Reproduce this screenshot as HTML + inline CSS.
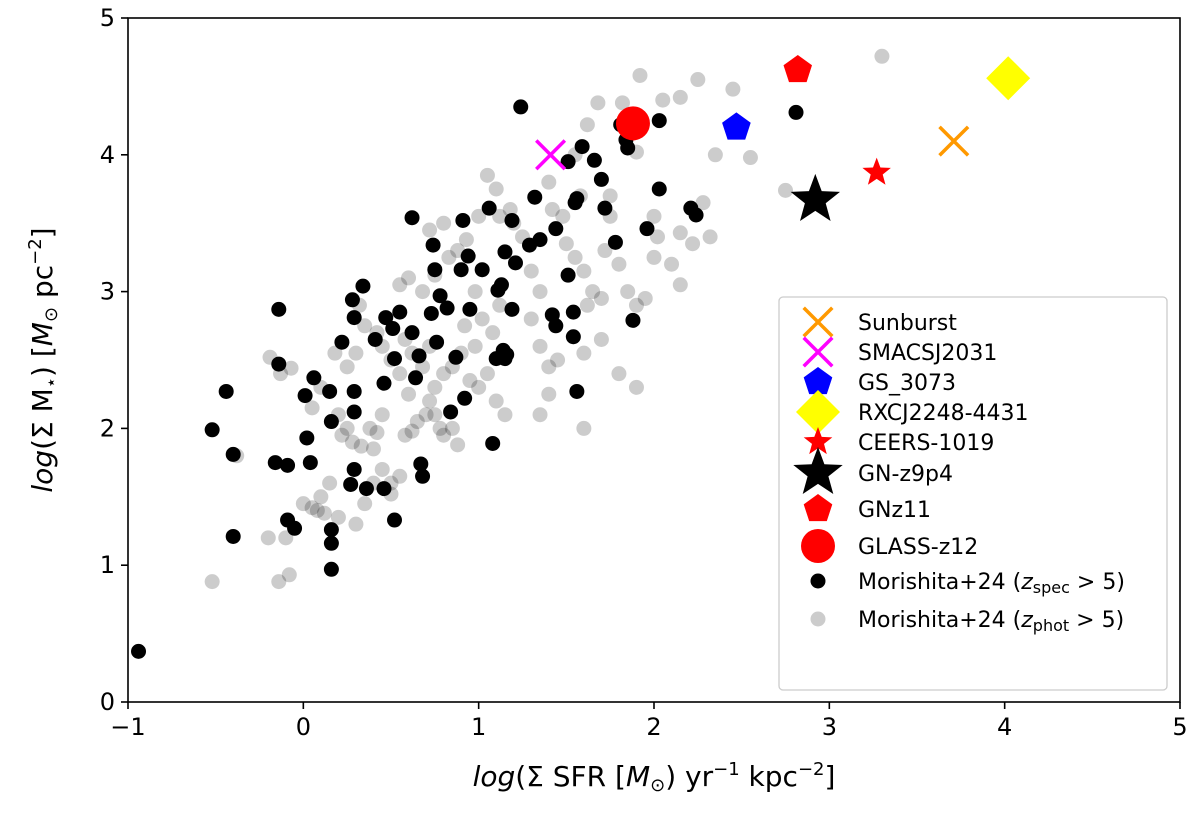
<!DOCTYPE html>
<html><head><meta charset="utf-8"><style>
body{margin:0;background:#fff}
svg{display:block;font-family:"DejaVu Sans","Liberation Sans",sans-serif}
</style></head><body>
<svg id="chart" width="1200" height="815" viewBox="0 0 1200 815"></svg>
<script>
const xTicks=[-1,0,1,2,3,4,5];
const yTicks=[0,1,2,3,4,5];
const blackX=[-0.94,-0.52,-0.44,-0.4,-0.4,-0.14,-0.14,-0.16,-0.09,-0.09,-0.05,0.06,0.01,0.02,0.04,0.16,0.16,0.16,0.15,0.16,0.22,0.28,0.29,0.29,0.29,0.29,0.27,0.36,0.34,0.41,0.46,0.47,0.52,0.51,0.52,0.46,0.55,0.62,0.62,0.64,0.66,0.67,0.68,0.73,0.74,0.75,0.76,0.78,0.82,0.84,0.87,0.91,0.9,0.94,0.95,0.92,1.02,1.06,1.08,1.13,1.14,1.15,1.19,1.1,1.11,1.15,1.19,1.21,1.29,1.32,1.35,1.44,1.42,1.44,1.54,1.54,1.56,1.51,1.51,1.55,1.56,1.24,1.59,1.66,1.72,1.81,1.84,1.85,1.88,1.78,1.96,2.03,2.03,2.21,2.24,2.81,1.16,1.7];
const blackY=[0.37,1.99,2.27,1.81,1.21,2.87,2.47,1.75,1.73,1.33,1.27,2.37,2.24,1.93,1.75,1.26,1.16,0.97,2.27,2.05,2.63,2.94,2.81,2.27,2.12,1.7,1.59,1.56,3.04,2.65,1.56,2.81,1.33,2.73,2.51,2.33,2.85,2.7,3.54,2.37,2.53,1.74,1.65,2.84,3.34,3.16,2.63,2.97,2.88,2.12,2.52,3.52,3.16,3.26,2.87,2.22,3.16,3.61,1.89,3.05,2.57,2.51,2.87,2.51,3.01,3.29,3.52,3.21,3.34,3.69,3.38,3.46,2.83,2.75,2.85,2.67,2.27,3.12,3.95,3.65,3.68,4.35,4.06,3.96,3.61,4.22,4.11,4.05,2.79,3.36,3.46,4.25,3.75,3.61,3.56,4.31,2.54,3.82];
const grayX=[-0.52,-0.14,-0.08,-0.2,-0.1,-0.38,-0.19,-0.13,-0.07,0.0,0.05,0.08,0.12,0.1,0.2,0.15,0.22,0.2,0.25,0.28,0.33,0.4,0.38,0.42,0.45,0.45,0.5,0.5,0.55,0.58,0.62,0.65,0.7,0.72,0.75,0.78,0.8,0.85,0.88,0.6,0.55,0.5,0.45,0.42,0.35,0.32,0.3,0.25,0.18,0.1,0.05,0.58,0.62,0.68,0.72,0.75,0.8,0.85,0.9,0.95,1.0,1.05,1.1,1.15,0.55,0.68,0.75,0.83,0.88,0.93,0.98,1.02,1.08,1.12,1.12,1.1,1.05,1.18,1.25,1.3,1.35,1.3,1.35,1.4,1.45,1.48,1.5,1.55,1.6,1.62,1.65,1.7,1.72,1.75,1.8,1.85,1.9,1.95,1.55,1.62,1.68,1.82,1.9,2.0,2.02,2.1,2.15,2.22,1.7,1.8,1.9,2.0,2.15,2.25,2.45,2.35,2.55,2.75,3.3,2.15,1.92,2.28,2.32,1.4,1.42,1.58,1.75,1.2,1.0,0.8,0.72,0.6,0.92,0.98,1.35,1.6,0.3,0.35,0.4,1.4,1.6,2.05];
const grayY=[0.88,0.88,0.93,1.2,1.2,1.8,2.52,2.4,2.44,1.45,1.42,1.4,1.38,1.5,1.35,1.6,1.95,2.1,2.0,1.9,1.87,1.85,2.0,1.97,2.1,1.7,1.6,1.52,1.65,1.95,1.98,2.05,2.1,2.2,2.1,2.0,1.95,2.0,1.88,2.25,2.4,2.5,2.6,2.7,2.75,2.9,2.55,2.45,2.55,2.3,2.15,2.65,2.55,2.45,2.6,2.3,2.4,2.45,2.55,2.35,2.3,2.4,2.2,2.1,3.05,3.0,3.12,3.25,3.3,3.38,3.0,2.8,2.7,2.9,3.55,3.75,3.85,3.6,3.4,3.15,3.0,2.8,2.6,2.45,2.5,3.55,3.35,3.25,3.15,2.9,3.0,2.95,3.3,3.55,3.2,3.0,2.9,2.95,4.0,4.22,4.38,4.38,4.02,3.55,3.4,3.2,3.43,3.35,2.65,2.4,2.3,3.25,3.05,4.55,4.48,4.0,3.98,3.74,4.72,4.42,4.58,3.65,3.4,3.8,3.6,3.7,3.7,3.5,3.55,3.5,3.45,3.1,2.75,2.6,2.1,2.0,1.3,1.45,1.6,2.25,2.55,4.4];
const specialNames=["Sunburst","SMACSJ2031","GS_3073","RXCJ2248-4431","CEERS-1019","GN-z9p4","GNz11","GLASS-z12"];
const specialX=[3.71,1.41,2.47,4.02,3.27,2.92,2.82,1.88];
const specialY=[4.10,4.00,4.20,4.56,3.87,3.67,4.62,4.23];
const specialKind=["x","x","pent","diamond","star","star","pent","circle"];
const specialColor=["#ff9900","#ff00ff","#0000ff","#ffff00","#ff0000","#000000","#ff0000","#ff0000"];
const specialSize=[20,20,15,22,15,26,15,17];

const L=128,R=1180,T=18,B=702;
const xs=v=>L+(v+1)/6*(R-L);
const ys=v=>B-v/5*(B-T);
const NS="http://www.w3.org/2000/svg";
const svg=document.getElementById('chart');
function mk(tag,attrs,parent){const e=document.createElementNS(NS,tag);for(const k in attrs)e.setAttribute(k,attrs[k]);(parent||svg).appendChild(e);return e;}
function marker(kind,cx,cy,s,color,parent){
  let e;
  if(kind==="x"){
    e=mk('path',{d:`M${cx-s/1.4},${cy-s/1.4}L${cx+s/1.4},${cy+s/1.4}M${cx-s/1.4},${cy+s/1.4}L${cx+s/1.4},${cy-s/1.4}`,stroke:color,'stroke-width':3.5,fill:'none'},parent);
  }else if(kind==="circle"){
    e=mk('circle',{cx,cy,r:s,fill:color},parent);
  }else if(kind==="diamond"){
    e=mk('polygon',{points:`${cx},${cy-s} ${cx+s},${cy} ${cx},${cy+s} ${cx-s},${cy}`,fill:color},parent);
  }else if(kind==="pent"){
    let p=[];for(let i=0;i<5;i++){const a=-Math.PI/2+i*2*Math.PI/5;p.push((cx+s*Math.cos(a)).toFixed(1)+","+(cy+s*Math.sin(a)).toFixed(1));}
    e=mk('polygon',{points:p.join(' '),fill:color},parent);
  }else{
    let p=[];for(let i=0;i<10;i++){const r=i%2?s*0.42:s;const a=-Math.PI/2+i*Math.PI/5;p.push((cx+r*Math.cos(a)).toFixed(1)+","+(cy+r*Math.sin(a)).toFixed(1));}
    e=mk('polygon',{points:p.join(' '),fill:color},parent);
  }
  return e;
}
const gG=mk('g',{});


grayX.forEach((x,i)=>{const c=mk('circle',{cx:xs(x),cy:ys(grayY[i]),r:7.5,fill:'#000','fill-opacity':0.2},gG);

});
const gB=mk('g',{});


blackX.forEach((x,i)=>{const c=mk('circle',{cx:xs(x),cy:ys(blackY[i]),r:7.5,fill:'#000'},gB);

});
specialNames.forEach((n,i)=>{const e=marker(specialKind[i],xs(specialX[i]),ys(specialY[i]),specialSize[i],specialColor[i]);

});
const fr=mk('rect',{x:L,y:T,width:R-L,height:B-T,fill:'none',stroke:'#000','stroke-width':1.6});


xTicks.forEach(t=>{const x=xs(t);mk('line',{x1:x,x2:x,y1:B,y2:B+7,stroke:'#000','stroke-width':1.6});
const tx=mk('text',{x:x,y:B+33,'font-size':24,'text-anchor':'middle'});tx.textContent=t<0?'\u2212'+(-t):t;

});
yTicks.forEach(t=>{const y=ys(t);mk('line',{x1:L-7,x2:L,y1:y,y2:y,stroke:'#000','stroke-width':1.6});
const tx=mk('text',{x:L-13,y:y+8,'font-size':24,'text-anchor':'end'});tx.textContent=t;

});
const lg=mk('g',{});


mk('rect',{x:779,y:297,width:388,height:393,rx:4,fill:'#fff','fill-opacity':0.85,stroke:'#ccc','stroke-width':1.3},lg);
const legY=[322,352,382,412,442,473,509,546,581,619,656];
specialNames.forEach((n,i)=>{marker(specialKind[i],818,legY[i],specialSize[i],specialColor[i],lg);
const t=mk('text',{x:858,y:legY[i]+8,'font-size':22},lg);t.textContent=n;

});
mk('circle',{cx:818,cy:legY[8],r:7.5,fill:'#000'},lg);
mk('circle',{cx:818,cy:legY[9],r:7.5,fill:'#000','fill-opacity':0.2},lg);
[["spec",8],["phot",9]].forEach(([s,k])=>{const t=mk('text',{x:858,y:legY[k]+8,'font-size':22},lg);
t.innerHTML='Morishita+24 (<tspan font-style="italic">z</tspan><tspan font-size="16" dy="4">'+s+'</tspan><tspan dy="-4"> &gt; 5)</tspan>';

});
const xt=mk('text',{x:654,y:786,'font-size':28,'text-anchor':'middle'});
xt.innerHTML='<tspan font-style="italic">log</tspan>(Σ SFR [<tspan font-style="italic">M</tspan><tspan font-size="18" dy="5">⊙</tspan><tspan dy="-5">) yr</tspan><tspan font-size="18" dy="-11">−1</tspan><tspan dy="11"> kpc</tspan><tspan font-size="18" dy="-11">−2</tspan><tspan dy="11">]</tspan>';


const yt=mk('text',{x:0,y:0,'font-size':28,'text-anchor':'middle',transform:'translate(52,360) rotate(-90)'});
yt.innerHTML='<tspan font-style="italic">log</tspan>(Σ M<tspan font-size="18" dy="5">⋆</tspan><tspan dy="-5">) [</tspan><tspan font-style="italic">M</tspan><tspan font-size="18" dy="5">⊙</tspan><tspan dy="-5"> pc</tspan><tspan font-size="18" dy="-11">−2</tspan><tspan dy="11">]</tspan>';


</script>
</body></html>
